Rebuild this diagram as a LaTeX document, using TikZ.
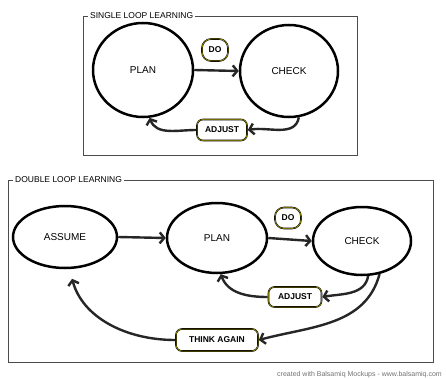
\documentclass[tikz,border=0pt]{standalone}
\usepackage{fontspec}
\setmainfont{Liberation Sans}
\usetikzlibrary{shapes.geometric,arrows.meta}
\begin{document}
\begin{tikzpicture}[x=1pt,y=1pt,
  loopnode/.style={ellipse,draw=black,line width=2.5pt,inner sep=0pt,font=\fontsize{10}{12}\selectfont},
  tag/.style={draw=black,line width=1.6pt,rounded corners=6pt,fill=white,inner sep=2pt,
    font=\bfseries\fontsize{8.5}{10}\selectfont,
    postaction={draw=olive!70!yellow,line width=0.5pt}},
  arr/.style={draw=black!85,line width=2.4pt,-{Straight Barb[length=4.5pt,width=11pt]}},
  frame/.style={draw=black!70,line width=0.8pt},
  frametitle/.style={fill=white,inner sep=2pt,anchor=west,font=\fontsize{8.5}{10}\selectfont}]
\useasboundingbox (0,0) rectangle (446,378);
\fill[white] (0,0) rectangle (446,378);

% ---------- single loop ----------
\draw[frame] (83,223) rectangle (357,362);
\node[frametitle] (title1) at (88,362) {SINGLE LOOP LEARNING};

\node[loopnode,minimum width=100pt,minimum height=94pt] (plan1) at (143,308) {PLAN};
\node[loopnode,minimum width=98pt,minimum height=92pt] (check1) at (289,307) {CHECK};
\node[tag,minimum width=26pt,minimum height=22pt,rounded corners=9pt] (do1) at (215,328) {DO};
\node[tag,minimum width=50pt,minimum height=21pt] (adj1) at (222,248) {ADJUST};

\draw[arr] (plan1.east) -- (check1.west);
\draw[arr] (check1.-78) to[out=-100,in=10] (adj1.east);
\draw[arr] (adj1.west) to[out=180,in=-70] (plan1.-82);

% ---------- double loop ----------
\draw[frame] (8,16) rectangle (433,198);
\node[frametitle] (title2) at (13,198) {DOUBLE LOOP LEARNING};

\node[loopnode,minimum width=104pt,minimum height=62pt] (assume) at (65,141) {ASSUME};
\node[loopnode,minimum width=100pt,minimum height=70pt] (plan2) at (217,140) {PLAN};
\node[loopnode,minimum width=98pt,minimum height=68pt] (check2) at (362,137) {CHECK};
\node[tag,minimum width=26pt,minimum height=21pt,rounded corners=9pt] (do2) at (288,160) {DO};
\node[tag,minimum width=53pt,minimum height=20pt] (adj2) at (295,81) {ADJUST};
\node[tag,minimum width=82pt,minimum height=22pt] (think) at (217,38) {THINK AGAIN};

\draw[arr] (assume.east) -- (plan2.west);
\draw[arr] (plan2.east) -- (check2.west);
\draw[arr] (check2.-80) to[out=-100,in=10] (adj2.east);
\draw[arr] (adj2.west) to[out=180,in=-70] (plan2.-84);
\draw[arr] (check2.-62) to[out=-105,in=15] (think.east);
\draw[arr,shorten >=10pt] (think.west) to[out=180,in=-75] (assume.-82);

\node[anchor=west,inner sep=0pt,text=black!55,font=\fontsize{7}{8}\selectfont] (credit) at (277,3)
  {created with Balsamiq Mockups - www.balsamiq.com};
\end{tikzpicture}
\end{document}
